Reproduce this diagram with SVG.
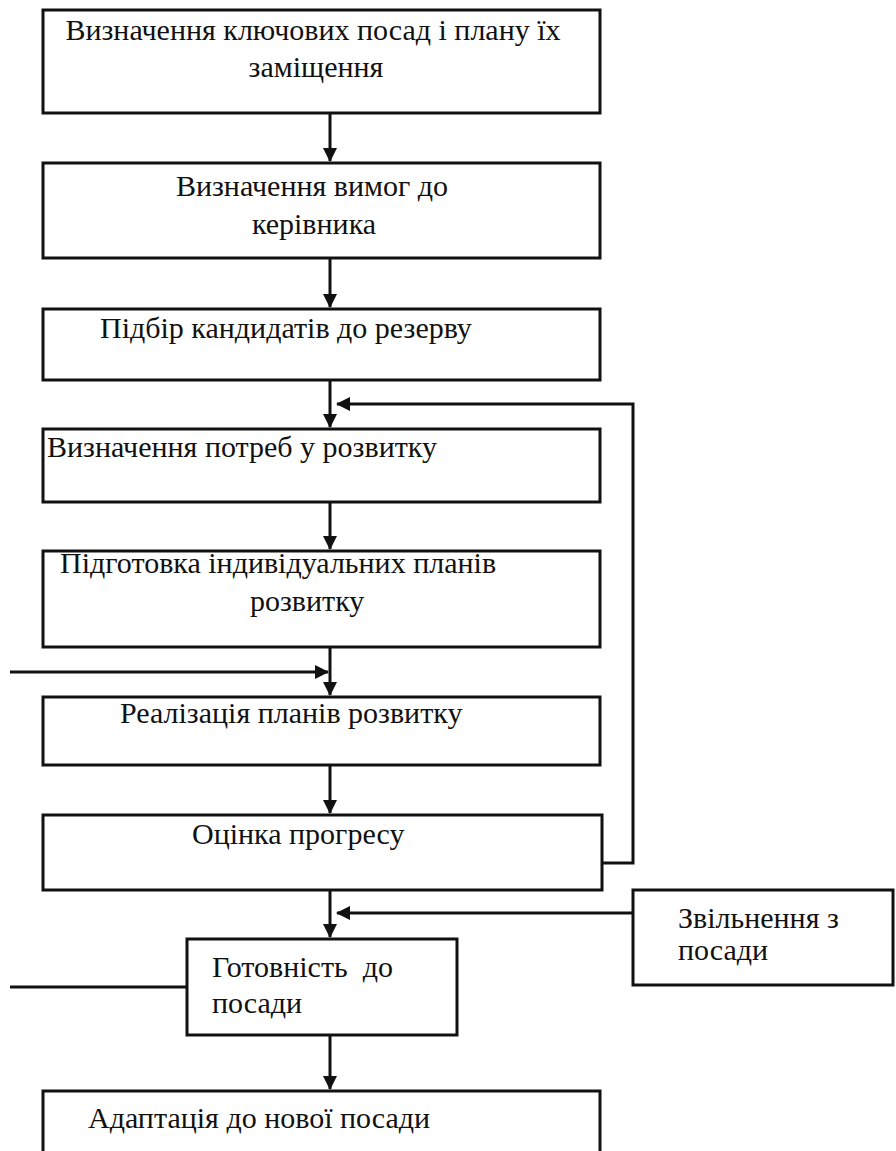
<svg xmlns="http://www.w3.org/2000/svg" width="896" height="1151" viewBox="0 0 896 1151">
<defs>
<style>
.box{fill:#fff;stroke:#111;stroke-width:3}
.t{font-family:"Liberation Serif","Times New Roman",serif;font-size:30px;fill:#111}
.c{text-anchor:middle}
.ln{fill:none;stroke:#111;stroke-width:3}
</style>
<marker id="ah" markerWidth="14" markerHeight="14" viewBox="0 0 14 14" refX="13" refY="7" orient="auto" markerUnits="userSpaceOnUse">
<path d="M0,0 L14,7 L0,14 Z" fill="#111"/>
</marker>
</defs>
<rect width="896" height="1151" fill="#fff"/>
<g id="connectors">
<line class="ln" x1="330" y1="113" x2="330" y2="161" marker-end="url(#ah)"/>
<line class="ln" x1="330" y1="258" x2="330" y2="307" marker-end="url(#ah)"/>
<line class="ln" x1="330" y1="380" x2="330" y2="427" marker-end="url(#ah)"/>
<line class="ln" x1="330" y1="502" x2="330" y2="549" marker-end="url(#ah)"/>
<line class="ln" x1="330" y1="647" x2="330" y2="695" marker-end="url(#ah)"/>
<line class="ln" x1="330" y1="765" x2="330" y2="813" marker-end="url(#ah)"/>
<line class="ln" x1="330" y1="890" x2="330" y2="937" marker-end="url(#ah)"/>
<line class="ln" x1="330" y1="1035" x2="330" y2="1089" marker-end="url(#ah)"/>
<polyline class="ln" points="602,863 633,863 633,404 337,404" marker-end="url(#ah)"/>
<line class="ln" x1="10" y1="672" x2="328" y2="672" marker-end="url(#ah)"/>
<line class="ln" x1="633" y1="913" x2="337" y2="913" marker-end="url(#ah)"/>
<line class="ln" x1="10" y1="987" x2="187" y2="987"/>
</g>
<g id="n1"><rect class="box" x="43" y="10" width="557" height="103"/>
<text class="t c" x="313" y="40">Визначення ключових посад і плану їх</text>
<text class="t c" x="316" y="77">заміщення</text></g>
<g id="n2"><rect class="box" x="43" y="163" width="557" height="95"/>
<text class="t c" x="312" y="196">Визначення вимог до</text>
<text class="t c" x="314" y="234">керівника</text></g>
<g id="n3"><rect class="box" x="43" y="309" width="557" height="71"/>
<text class="t" x="100" y="338">Підбір кандидатів до резерву</text></g>
<g id="n4"><rect class="box" x="43" y="429" width="557" height="73"/>
<text class="t" x="47" y="457">Визначення потреб у розвитку</text></g>
<g id="n5"><rect class="box" x="43" y="551" width="557" height="96"/>
<text class="t" x="60" y="573">Підготовка індивідуальних планів</text>
<text class="t" x="250" y="611">розвитку</text></g>
<g id="n6"><rect class="box" x="43" y="697" width="557" height="68"/>
<text class="t" x="120" y="723">Реалізація планів розвитку</text></g>
<g id="n7"><rect class="box" x="43" y="815" width="559" height="75"/>
<text class="t" x="192" y="844">Оцінка прогресу</text></g>
<g id="n8"><rect class="box" x="187" y="939" width="270" height="96"/>
<text class="t" x="212" y="977" xml:space="preserve">Готовність  до</text>
<text class="t" x="212" y="1013">посади</text></g>
<g id="n9"><rect class="box" x="633" y="890" width="260" height="95"/>
<text class="t" x="678" y="928">Звільнення з</text>
<text class="t" x="678" y="960">посади</text></g>
<g id="n10"><path class="box" d="M43,1160 L43,1091 L600,1091 L600,1160"/>
<text class="t" x="88" y="1128">Адаптація до нової посади</text></g>
</svg>
